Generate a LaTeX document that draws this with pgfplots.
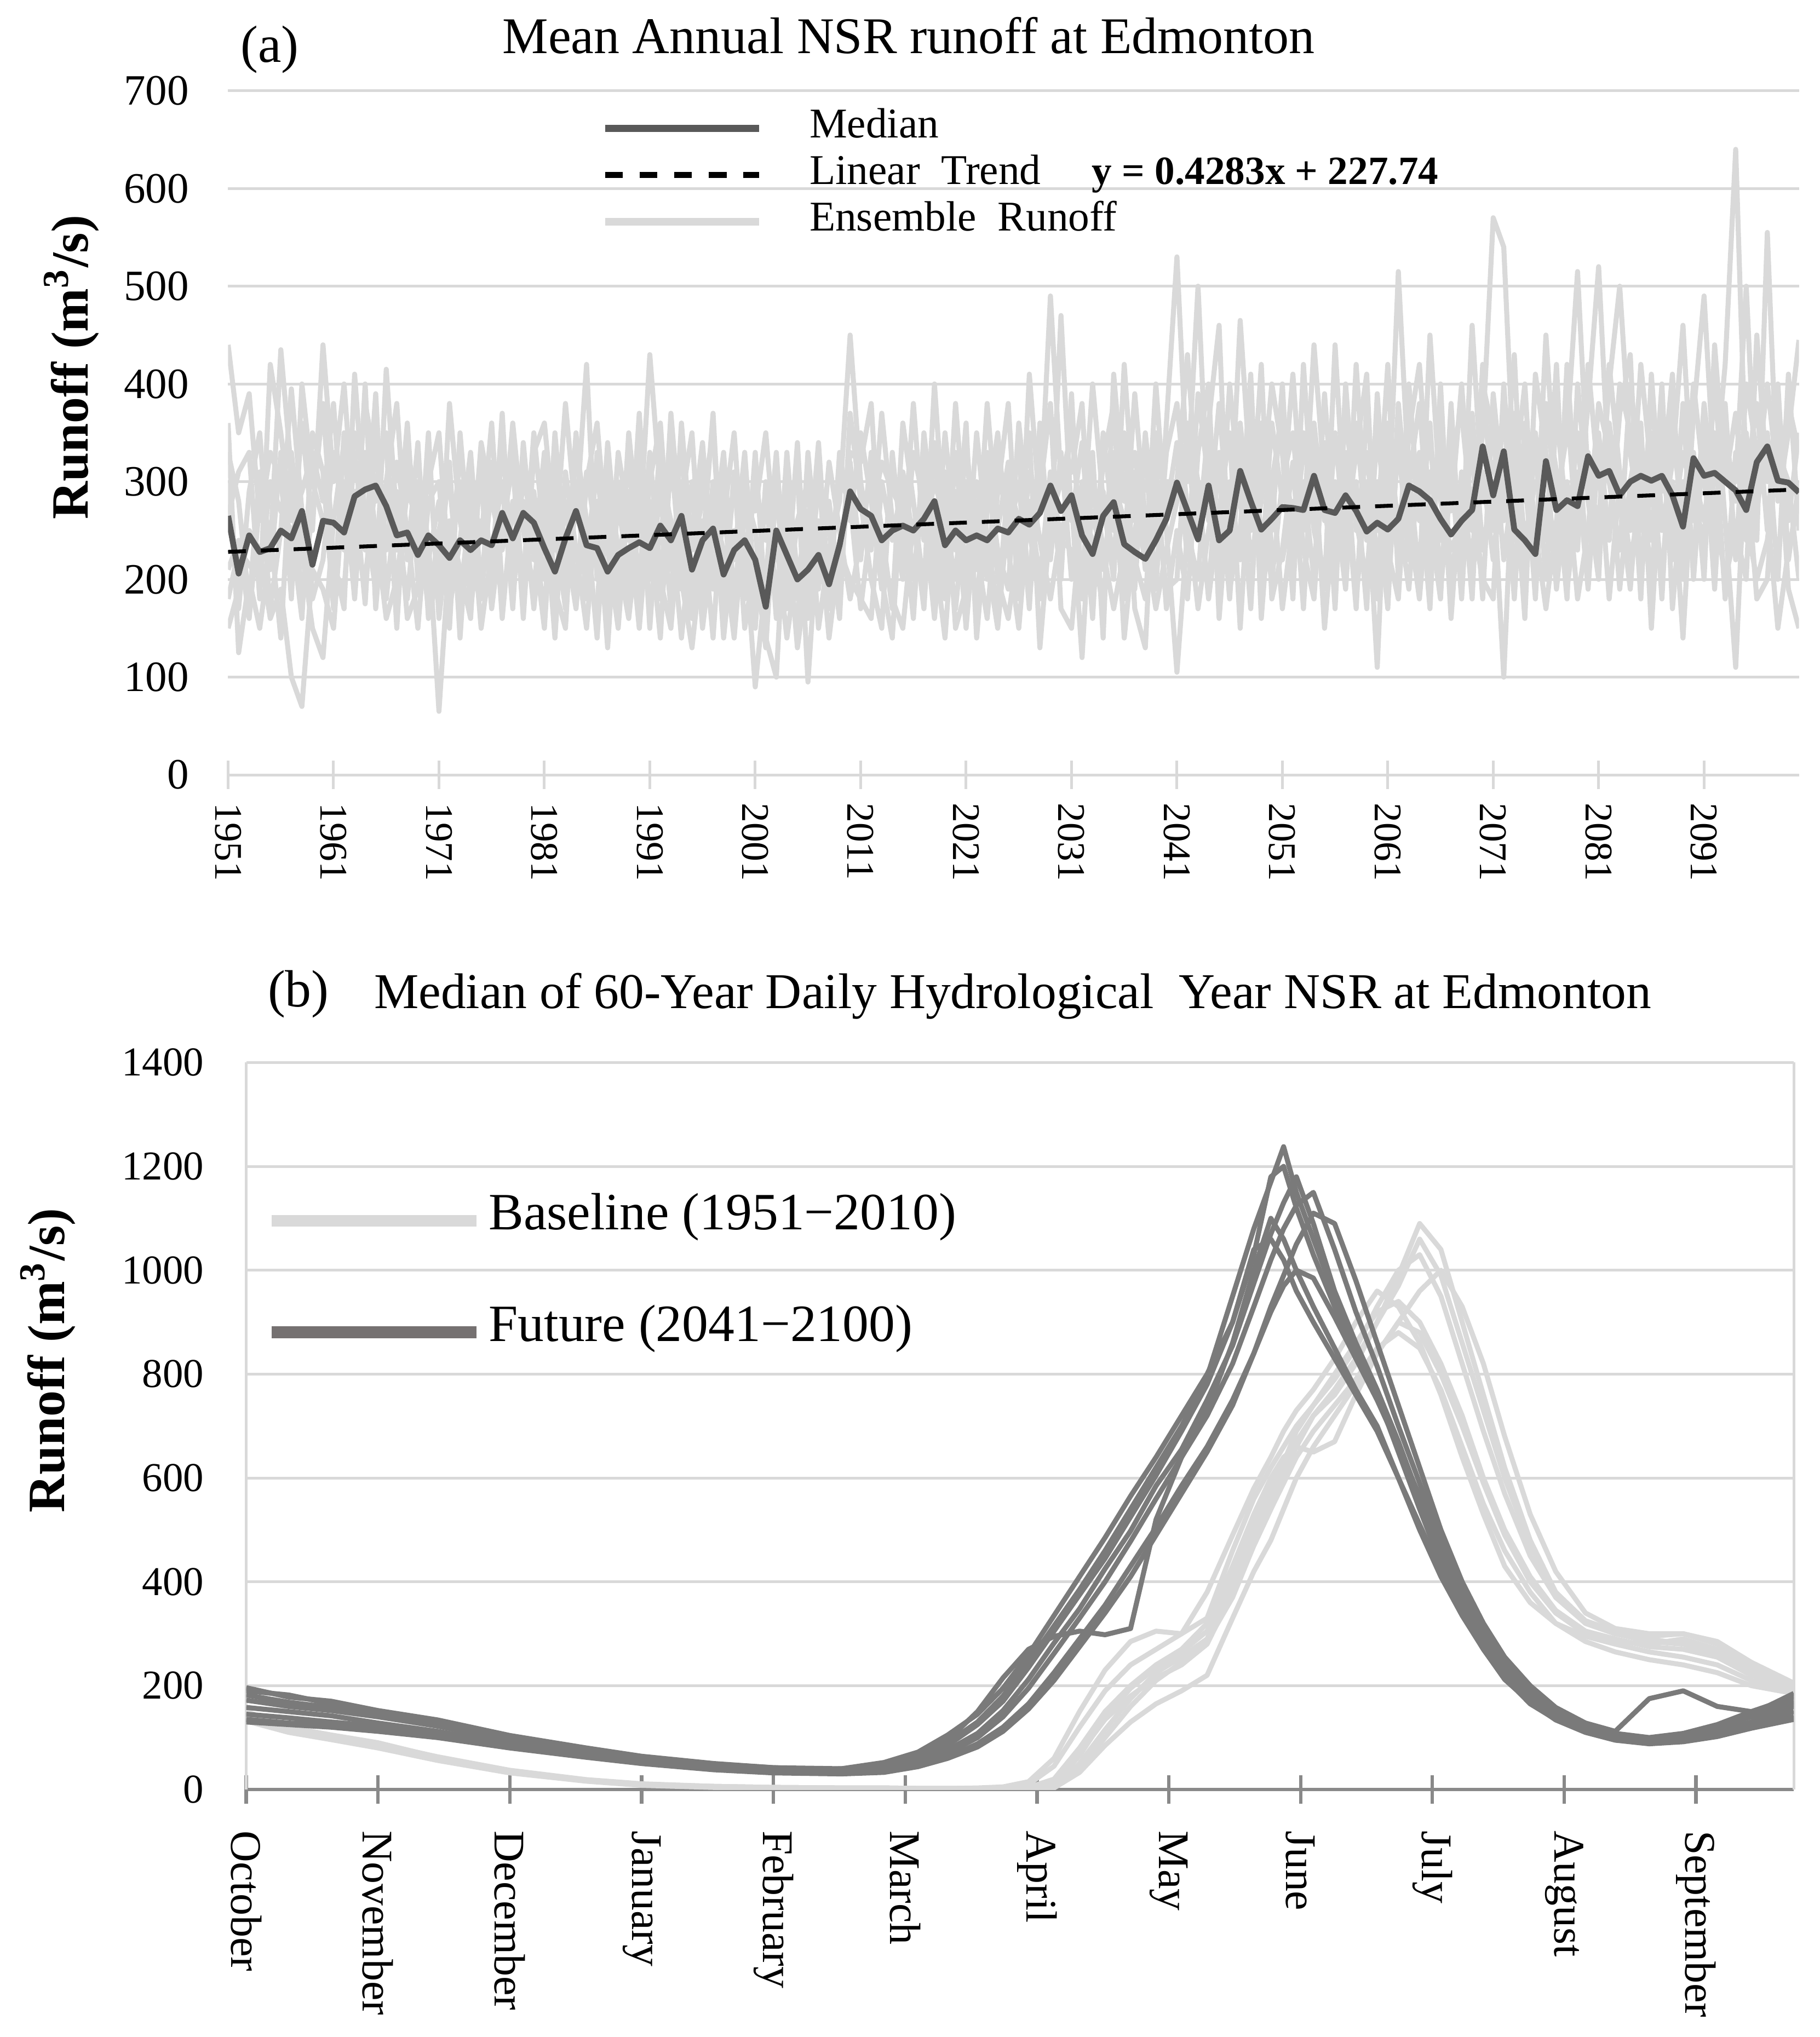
\documentclass[border=0pt]{standalone}
\usepackage{fontspec}
\setmainfont{Liberation Serif}
\usepackage{pgfplots}
\usepackage{pgfplotstable}
\pgfplotsset{compat=1.18}
\definecolor{gridgray}{HTML}{D9D9D9}
\definecolor{ensgray}{HTML}{D9D9D9}
\definecolor{medgray}{HTML}{595959}
\definecolor{axgray}{HTML}{898989}
\definecolor{futgray}{HTML}{7A7A7A}
\definecolor{futleg}{HTML}{757171}
\definecolor{basegray}{HTML}{D9D9D9}

\pgfplotstableread{
yr med e1 e2 e3 e4 e5 e6 e7 e8
1951 265 440 360 330 150 265 210 300 180
1952 206 350 125 280 190 310 240 170 230
1953 245 390 200 175 250 330 160 290 215
1954 228 260 150 310 230 180 280 350 200
1955 232 330 230 170 160 420 250 210 300
1956 250 300 435 250 190 350 140 330 270
1957 242 210 310 395 100 260 330 180 250
1958 270 360 180 270 70 290 230 400 160
1959 215 250 270 180 210 330 150 300 350
1960 260 440 380 220 190 280 120 260 310
1961 258 300 220 330 150 380 260 210 170
1962 248 400 170 260 300 230 340 190 350
1963 285 250 410 290 180 350 200 330 240
1964 292 380 260 175 330 300 400 230 200
1965 296 320 190 360 250 280 170 390 300
1966 275 270 415 230 160 350 300 180 340
1967 245 230 260 320 200 170 380 290 150
1968 248 360 180 250 290 310 220 160 330
1969 225 200 300 150 260 240 340 190 280
1970 245 330 240 280 170 300 160 350 220
1971 235 180 65 300 250 350 210 160 280
1972 222 380 230 170 300 200 320 260 150
1973 240 260 300 240 180 330 140 210 350
1974 230 200 170 330 280 250 300 160 220
1975 240 340 260 190 150 300 240 330 180
1976 235 280 190 320 230 170 360 200 300
1977 268 230 340 160 300 260 190 370 250
1978 242 360 210 280 170 330 230 180 320
1979 268 250 300 200 340 180 280 310 160
1980 258 190 260 350 220 290 170 240 330
1981 232 300 160 240 330 200 280 150 360
1982 208 230 350 170 190 290 140 320 250
1983 242 380 220 280 150 240 310 190 170
1984 270 260 300 190 340 170 230 350 280
1985 235 420 180 310 260 300 150 200 230
1986 232 200 330 240 140 360 280 170 310
1987 208 290 150 180 310 230 130 340 260
1988 225 170 280 330 230 150 300 220 190
1989 232 350 200 260 180 290 240 160 330
1990 238 240 370 150 300 200 330 260 180
1991 232 430 200 280 170 330 150 250 300
1992 255 290 340 180 250 200 310 140 360
1993 240 170 250 370 300 150 260 330 210
1994 265 360 190 240 330 280 140 200 300
1995 210 230 300 160 200 350 250 130 180
1996 240 280 150 320 260 180 340 230 200
1997 252 350 240 190 140 300 200 370 270
1998 205 190 330 260 300 140 280 170 230
1999 230 300 180 350 220 250 160 310 140
2000 240 240 290 200 330 180 300 150 270
2001 220 90 250 300 180 330 150 220 270
2002 172 200 140 240 280 170 300 130 350
2003 250 330 100 280 190 240 160 300 220
2004 225 170 300 200 250 140 330 190 260
2005 200 260 180 150 310 220 200 340 130
2006 210 300 240 330 95 180 270 160 210
2007 225 150 310 210 260 300 190 250 340
2008 195 230 170 280 140 250 320 200 180
2009 235 280 330 190 230 160 250 300 210
2010 290 450 260 320 200 370 180 280 330
2011 272 300 350 220 180 280 240 170 320
2012 265 230 280 330 160 200 310 260 380
2013 240 370 190 250 300 150 230 320 200
2014 250 260 320 170 240 330 180 290 140
2015 255 200 240 360 300 220 150 270 310
2016 250 330 170 280 200 380 260 160 240
2017 262 280 350 190 310 240 170 330 270
2018 280 190 250 400 230 300 340 210 160
2019 235 350 180 240 140 260 200 310 280
2020 250 240 330 170 290 200 380 150 230
2021 240 300 200 280 150 340 240 190 360
2022 245 210 350 170 280 230 300 260 140
2023 240 380 240 310 200 160 220 330 270
2024 252 250 170 230 330 290 150 200 350
2025 248 320 300 190 240 380 270 160 230
2026 262 180 260 360 300 200 330 240 150
2027 256 410 200 250 170 310 180 350 280
2028 268 270 330 180 360 240 290 130 200
2029 296 490 230 300 220 180 380 260 310
2030 270 300 470 200 330 250 170 300 240
2031 286 350 260 390 200 280 150 310 230
2032 245 240 340 180 300 120 270 380 200
2033 226 400 200 270 160 310 240 180 330
2034 265 280 320 210 350 230 170 290 140
2035 279 200 380 300 250 170 330 220 410
2036 236 420 180 260 300 230 140 350 280
2037 228 260 310 190 220 390 250 170 330
2038 221 330 210 350 180 260 300 130 240
2039 240 190 400 240 320 200 280 350 170
2040 262 360 250 300 170 330 190 270 230
2041 299 530 105 300 250 380 200 340 280
2042 270 300 250 430 180 270 360 220 330
2043 241 500 200 280 330 170 300 390 240
2044 296 260 350 190 400 250 180 300 360
2045 240 380 220 330 160 310 270 200 460
2046 250 240 400 210 300 180 350 280 190
2047 311 465 280 360 220 340 150 310 250
2048 280 300 190 250 380 220 330 170 410
2049 251 210 330 420 200 280 250 360 160
2050 262 360 250 180 310 400 200 230 300
2051 274 280 400 230 170 330 300 220 370
2052 273 410 200 320 260 180 350 280 240
2053 271 250 350 170 300 420 230 190 330
2054 306 440 280 360 200 250 180 330 300
2055 271 300 190 260 390 200 340 150 270
2056 268 220 440 300 240 350 170 280 210
2057 286 370 250 200 330 230 400 190 300
2058 270 260 330 420 180 300 250 360 170
2059 249 200 410 250 300 170 330 240 380
2060 258 350 180 300 110 390 220 280 250
2061 251 250 310 190 360 230 300 170 420
2062 262 515 220 340 250 180 270 380 200
2063 296 300 400 220 310 350 190 260 330
2064 290 380 260 300 200 420 330 180 280
2065 281 230 350 170 450 260 210 310 360
2066 262 330 200 400 280 180 350 240 190
2067 246 270 320 190 230 380 160 330 300
2068 260 400 180 300 260 200 310 370 220
2069 271 250 370 210 330 290 180 260 460
2070 336 350 230 420 180 310 400 200 280
2071 286 570 300 250 390 220 350 180 320
2072 331 540 100 380 280 330 220 400 260
2073 251 300 350 200 430 180 310 240 370
2074 240 400 240 330 200 360 160 300 280
2075 226 220 300 180 350 250 410 190 330
2076 321 450 280 380 240 170 330 360 200
2077 271 280 200 310 420 260 190 300 370
2078 281 350 420 240 190 380 300 180 260
2079 275 515 260 350 280 230 180 400 310
2080 326 300 380 200 330 420 250 280 190
2081 306 260 520 330 230 300 380 200 350
2082 311 400 300 180 360 250 330 420 240
2083 286 500 230 300 280 400 190 310 370
2084 300 330 400 250 190 350 300 220 430
2085 306 250 310 420 330 180 360 280 200
2086 301 380 200 310 240 410 150 350 300
2087 306 290 360 200 400 260 330 180 250
2088 286 410 250 350 170 300 220 380 320
2089 254 200 330 260 300 140 380 240 460
2090 324 370 280 400 220 330 200 310 260
2091 306 490 240 300 380 200 350 260 330
2092 309 300 400 230 280 440 190 350 250
2093 300 420 260 330 200 300 380 180 350
2094 291 640 110 300 250 370 220 330 280
2095 271 300 350 500 200 260 400 240 320
2096 320 380 240 270 450 200 330 300 180
2097 336 250 555 350 300 240 270 400 200
2098 301 400 280 200 380 330 150 300 360
2099 299 220 350 410 260 300 230 380 190
2100 289 300 445 250 350 200 280 330 150
}\annual

\pgfplotstableread{
d F1 F2 F3 F4 F5 F6 F7 F8 B1 B2 B3 B4 B5 B6 B7 B8
0 190 172 135 158 182 145 196 130 150 135 145 140 132 148 138 142
10 182 160 128 150 168 138 178 125 120 112 118 116 110 120 114 117
20 165 152 124 142 158 130 170 120 105 98 102 100 96 104 99 101
31 150 140 118 128 145 122 152 112 90 82 86 85 80 88 83 87
45 130 122 105 112 126 108 134 100 62 58 60 60 56 63 59 61
62 100 95 84 88 98 85 104 80 36 33 35 35 32 37 34 36
80 78 74 64 68 76 65 80 62 18 17 18 18 16 19 17 18
93 62 60 52 56 62 54 64 50 10 9 10 10 8 11 9 10
110 48 46 40 44 49 42 50 38 5 5 6 6 4 6 5 5
124 40 40 33 36 42 35 42 32 3 3 4 4 3 4 3 3
140 38 37 33 34 38 40 40 30 2 2 3 3 2 3 2 2
150 48 40 42 34 38 52 45 33 2 2 3 3 2 3 2 2
158 63 55 62 46 50 72 60 44 2 2 2 2 2 2 2 2
165 90 76 95 62 70 105 85 60 2 2 2 2 2 2 2 2
172 130 108 150 88 100 145 125 82 2 2 2 2 2 2 2 3
178 180 152 215 120 140 195 170 112 2 2 2 2 2 2 2 5
184 245 212 270 165 195 260 235 155 10 2 4 3 2 3 2 15
190 315 282 295 225 262 335 305 210 45 5 20 12 3 15 8 60
196 385 348 305 290 330 410 375 275 120 40 80 65 33 70 50 150
202 460 425 298 355 400 485 445 340 190 100 150 140 85 135 115 230
208 540 498 310 430 478 565 525 410 240 160 200 195 130 180 175 285
214 620 585 520 505 560 640 605 490 270 210 240 235 165 215 225 305
220 700 655 640 585 640 720 690 570 300 245 270 265 190 240 255 300
226 795 750 730 660 720 800 780 650 380 285 320 305 220 280 290 330
232 950 855 860 750 820 900 900 740 490 370 430 410 330 380 390 460
237 1080 975 1000 840 930 1040 1030 840 580 470 530 510 420 470 490 560
241 1170 1070 1100 920 1020 1060 1180 930 640 540 600 580 480 540 560 620
244 1238 1130 1060 970 1080 1020 1200 990 690 600 640 630 540 590 610 660
247 1150 1180 1000 1000 1125 960 1120 1050 730 660 660 690 600 640 670 700
251 1060 1090 930 985 1150 900 1030 1110 770 720 650 740 660 690 720 740
256 950 960 850 910 1040 830 930 1090 830 760 670 790 720 740 770 800
261 850 860 770 830 920 760 840 980 900 820 760 850 780 790 830 860
266 760 770 700 750 815 690 755 860 960 900 840 930 840 850 900 920
271 650 670 600 660 700 600 660 740 930 990 900 1000 900 880 970 940
276 540 560 500 565 590 510 555 620 860 1090 880 1030 960 850 1060 900
281 435 455 410 470 480 420 450 500 760 1040 800 950 1000 770 990 820
286 350 370 335 385 390 340 365 400 640 900 700 820 930 660 860 720
291 275 295 270 310 315 270 290 320 530 760 590 690 820 550 730 600
296 215 235 215 245 250 212 228 255 430 620 490 570 680 460 600 500
302 165 182 170 190 195 168 178 200 360 480 400 450 530 380 470 410
308 135 148 138 150 155 134 142 158 320 380 340 370 420 320 380 345
315 112 122 115 122 125 110 118 128 295 320 300 320 340 285 325 305
322 98 106 100 104 108 95 102 112 280 300 285 300 310 265 305 290
330 95 98 92 96 100 88 97 175 265 285 280 290 300 250 295 275
338 100 104 98 100 108 92 104 190 255 280 290 280 300 240 300 270
346 110 118 108 112 125 102 120 160 240 260 270 265 280 225 285 255
354 130 140 125 128 150 118 145 150 210 225 230 230 240 200 245 220
364 160 165 140 150 178 135 185 170 185 195 200 195 200 185 205 190
}\daily

\begin{document}
\begin{tikzpicture}
\useasboundingbox (0,0) rectangle (14.04,15.72);

% ---------- Panel (a) ----------
\node[anchor=base west, inner sep=0pt, font=\fontsize{11.5}{13}\selectfont] at (1.85,15.24) {(a)};
\node[anchor=base west, inner sep=0pt, font=\fontsize{11.3}{13}\selectfont] at (3.87,15.31) {Mean Annual NSR runoff at Edmonton};
\node[rotate=90, inner sep=0pt, font=\bfseries\fontsize{11.5}{13}\selectfont] at (0.55,12.885) {Runoff (m\textsuperscript{3}/s)};

\begin{axis}[
  at={(1.76cm,9.74cm)}, anchor=south west,
  scale only axis, width=12.12cm, height=5.28cm,
  xmin=1951, xmax=2100, ymin=0, ymax=700,
  axis x line=bottom, axis y line=left,
  x axis line style={draw=gridgray, line width=0.6pt, -},
  y axis line style={draw=none, -},
  xtick={1951,1961,...,2091},
  ytick={0,100,...,700},
  ymajorgrids,
  major grid style={draw=gridgray, line width=0.6pt},
  tick align=center, major tick length=0.22cm,
  xtick style={draw=gridgray, line width=0.6pt},
  ytick style={draw=none},
  /pgf/number format/1000 sep={},
  /pgf/number format/assume math mode=true,
  xticklabel style={rotate=-90, anchor=west, inner sep=0pt, xshift=0.10cm, font=\fontsize{8.6}{10}\selectfont},
  yticklabel style={anchor=east, inner sep=0pt, xshift=-0.185cm, font=\fontsize{9.5}{10}\selectfont},
  legend style={at={(0.2376,0.979)}, anchor=north west, draw=none, fill=none,
    inner sep=0pt, outer sep=0pt, column sep=0.36cm, row sep=0pt,
    font=\fontsize{9.3}{11}\selectfont,
    nodes={inner sep=0pt, text height=0.25cm, text depth=0.11cm}},
  legend cell align=left,
]
\pgfplotsinvokeforeach{e1,e2,e3,e4,e5,e6,e7,e8}{
  \addplot[ensgray, line width=1.1pt, line join=round, forget plot] table[x=yr, y=#1]{\annual};
}
\addplot[medgray, line width=1.3pt, line join=round, forget plot] table[x=yr, y=med]{\annual};
\addplot[black, line width=0.85pt, dash pattern=on 3.9pt off 3.3pt, forget plot] coordinates {(1951,228.17) (2100,291.99)};

\addlegendimage{legend image code/.code={\draw[medgray, line width=1.6pt] (0cm,0cm) -- (1.19cm,0cm);}}
\addlegendentry{Median}
\addlegendimage{legend image code/.code={\draw[black, line width=1.3pt, dash pattern=on 3.9pt off 3.7pt] (0cm,0cm) -- (1.19cm,0cm);}}
\addlegendentry{\makebox[2.18cm][l]{Linear\ \ Trend}{\fontsize{8.8}{10}\selectfont\bfseries y = 0.4283x + 227.74}}
\addlegendimage{legend image code/.code={\draw[ensgray, line width=1.6pt] (0cm,0cm) -- (1.19cm,0cm);}}
\addlegendentry{Ensemble\ \ Runoff}
\end{axis}

% ---------- Panel (b) ----------
\node[anchor=base west, inner sep=0pt, font=\fontsize{11.5}{13}\selectfont] at (2.06,7.95) {(b)};
\node[anchor=base west, inner sep=0pt, font=\fontsize{11}{13}\selectfont] at (2.88,7.94) {Median of 60-Year Daily Hydrological\ \ Year NSR at Edmonton};
\node[rotate=90, inner sep=0pt, font=\bfseries\fontsize{11.5}{13}\selectfont] at (0.37,5.22) {Runoff (m\textsuperscript{3}/s)};

\begin{axis}[
  at={(1.90cm,1.91cm)}, anchor=south west,
  scale only axis, width=11.94cm, height=5.61cm,
  xmin=0, xmax=364, ymin=0, ymax=1400,
  axis x line=bottom, axis y line=left,
  x axis line style={draw=axgray, line width=0.75pt, -},
  y axis line style={draw=gridgray, line width=0.6pt, -},
  xtick={0,31,62,93,124,155,186,217,248,279,310,341},
  xticklabels={October,November,December,January,February,March,April,May,June,July,August,September},
  extra x ticks={364}, extra x tick labels={},
  extra x tick style={xmajorgrids=true, major tick length=0pt},
  ytick={0,200,...,1400},
  ymajorgrids,
  major grid style={draw=gridgray, line width=0.6pt},
  tick align=center, major tick length=0.22cm,
  xtick style={draw=axgray, line width=0.75pt},
  ytick style={draw=none},
  /pgf/number format/1000 sep={},
  /pgf/number format/assume math mode=true,
  xticklabel style={rotate=-90, anchor=west, inner sep=0pt, xshift=0.20cm, font=\fontsize{9.6}{11}\selectfont},
  yticklabel style={anchor=east, inner sep=0pt, xshift=-0.21cm, font=\fontsize{9}{10}\selectfont},
  legend style={at={(0.01256,0.859)}, anchor=north west, draw=none, fill=none,
    inner sep=0pt, outer sep=0pt, column sep=0.05cm, row sep=0pt,
    font=\fontsize{11.5}{13}\selectfont,
    nodes={inner sep=0pt, text height=0.50cm, text depth=0.36cm}},
  legend cell align=left,
]
\pgfplotsinvokeforeach{B1,B2,B3,B4,B5,B6,B7,B8}{
  \addplot[basegray, line width=1.1pt, line join=round, forget plot] table[x=d, y=#1]{\daily};
}
\pgfplotsinvokeforeach{F1,F2,F3,F4,F5,F6,F7,F8}{
  \addplot[futgray, line width=1.1pt, line join=round, forget plot] table[x=d, y=#1]{\daily};
}
\addlegendimage{legend image code/.code={\draw[basegray, line width=2.6pt] (0cm,0cm) -- (1.58cm,0cm);}}
\addlegendentry{Baseline (1951−2010)}
\addlegendimage{legend image code/.code={\draw[futleg, line width=2.6pt] (0cm,0cm) -- (1.58cm,0cm);}}
\addlegendentry{Future (2041−2100)}
\end{axis}
\end{tikzpicture}
\end{document}
